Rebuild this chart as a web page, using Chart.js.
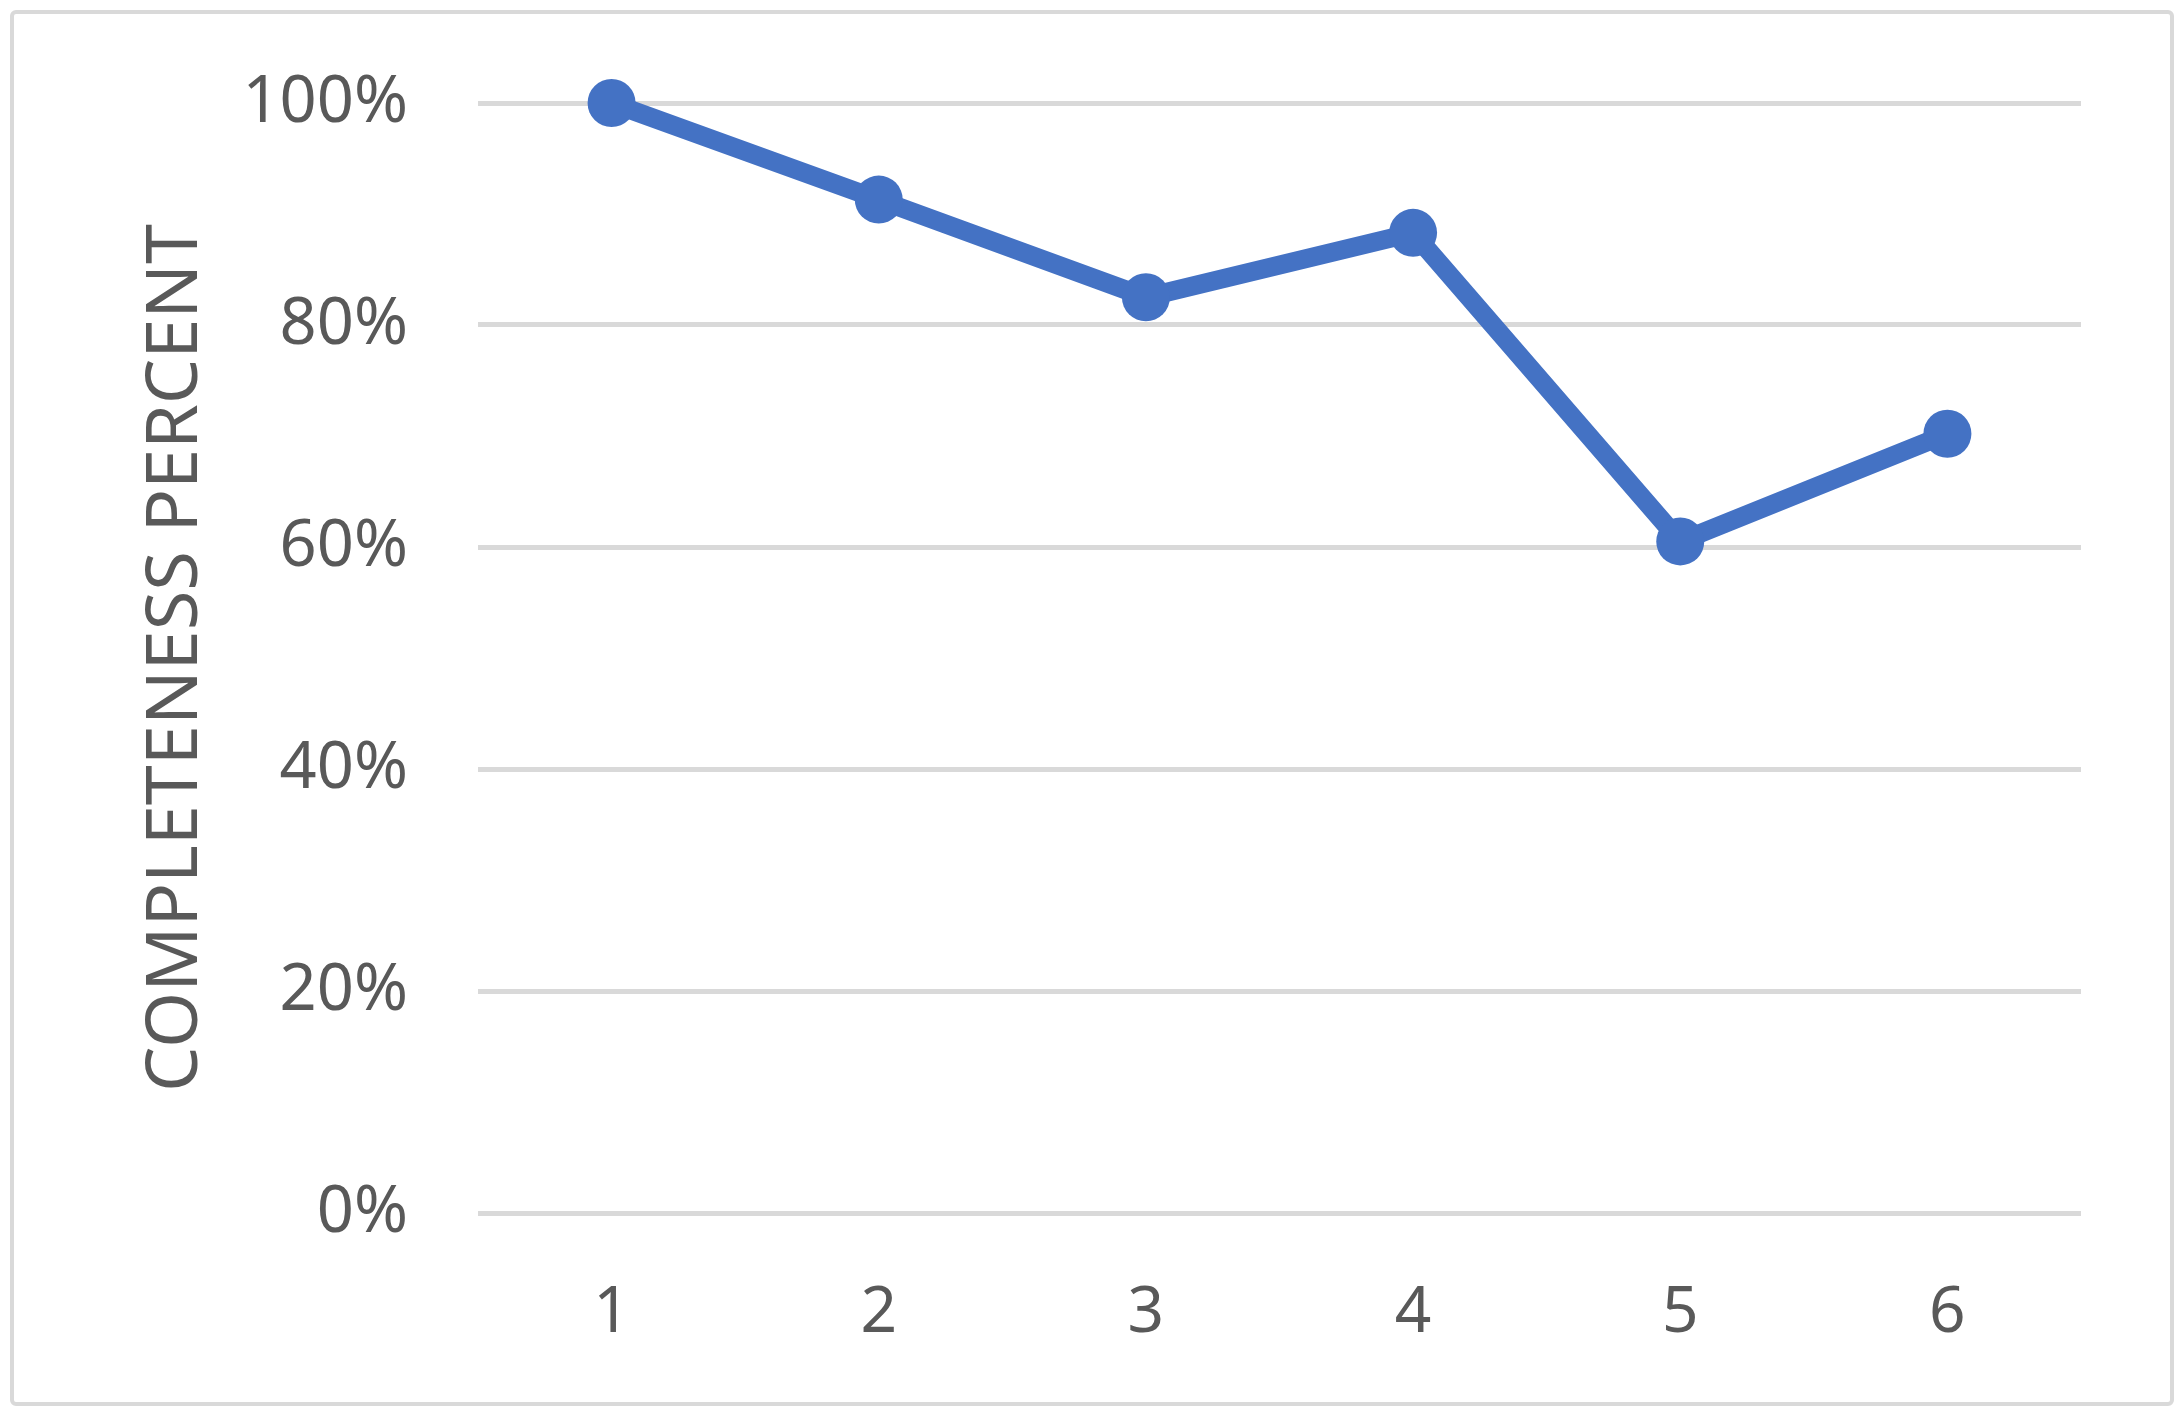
<!DOCTYPE html>
<html>
<head>
<meta charset="utf-8">
<script src="https://cdn.jsdelivr.net/npm/chart.js@4"></script>
<style>
  html, body { margin: 0; padding: 0; background: #fff; }
  #wrap { position: relative; width: 2184px; height: 1416px; }
  #frame {
    position: absolute; left: 10px; top: 10px; right: 10px; bottom: 10px;
    border: 4px solid #D9D9D9; border-radius: 6px;
  }
  #c { position: absolute; left: 0; top: 0; }
</style>
</head>
<body>
<div id="wrap">
  <div id="frame"></div>
  <canvas id="c" width="2184" height="1416"></canvas>
</div>
<script>
const categories = ["1", "2", "3", "4", "5", "6"];
const completeness = [1.00, 0.913, 0.825, 0.883, 0.605, 0.702];
const yTicks = [0, 0.2, 0.4, 0.6, 0.8, 1.0];
const yTitle = "COMPLETENESS PERCENT";

const blue = '#4472C4';
const grey = '#595959';
const gridGrey = '#D9D9D9';
const fontFamily = "'Noto Sans', 'Open Sans', sans-serif";

const ctx = document.getElementById('c').getContext('2d');
new Chart(ctx, {
  type: 'line',
  data: {
    labels: categories,
    datasets: [{
      data: completeness,
      borderColor: blue,
      backgroundColor: blue,
      borderWidth: 19,
      pointRadius: 24,
      pointHoverRadius: 24,
      pointBorderWidth: 0,
      pointBackgroundColor: blue,
      fill: false,
      tension: 0,
      clip: false
    }]
  },
  options: {
    responsive: false,
    animation: false,
    devicePixelRatio: 1,
    layout: { autoPadding: false, padding: { left: 133, top: 103, right: 103, bottom: 0 } },
    plugins: { legend: { display: false }, tooltip: { enabled: false } },
    scales: {
      x: {
        offset: true,
        grid: { display: false, drawTicks: false },
        border: { display: false },
        ticks: {
          color: grey,
          padding: 62,
          font: { family: fontFamily, size: 64 }
        },
        // fixed plot box so the axes land where the original has them
        afterFit: s => { s.height = 1416 - 1213; s.paddingTop = 0; s.paddingBottom = 0; }
      },
      y: {
        min: 0,
        max: 1,
        afterBuildTicks: s => { s.ticks = yTicks.map(v => ({ value: v })); },
        grid: { color: gridGrey, lineWidth: 5, drawTicks: false },
        border: { display: false },
        ticks: {
          color: grey,
          padding: 70,
          font: { family: fontFamily, size: 65 },
          callback: v => Math.round(v * 100) + '%'
        },
        title: {
          display: true,
          text: yTitle,
          color: grey,
          padding: { top: 0, bottom: 0 },
          font: { family: fontFamily, size: 72 }
        },
        afterFit: s => { s.width = 478 - 133; s.paddingTop = 0; s.paddingBottom = 0; }
      }
    }
  }
});
</script>
</body>
</html>
